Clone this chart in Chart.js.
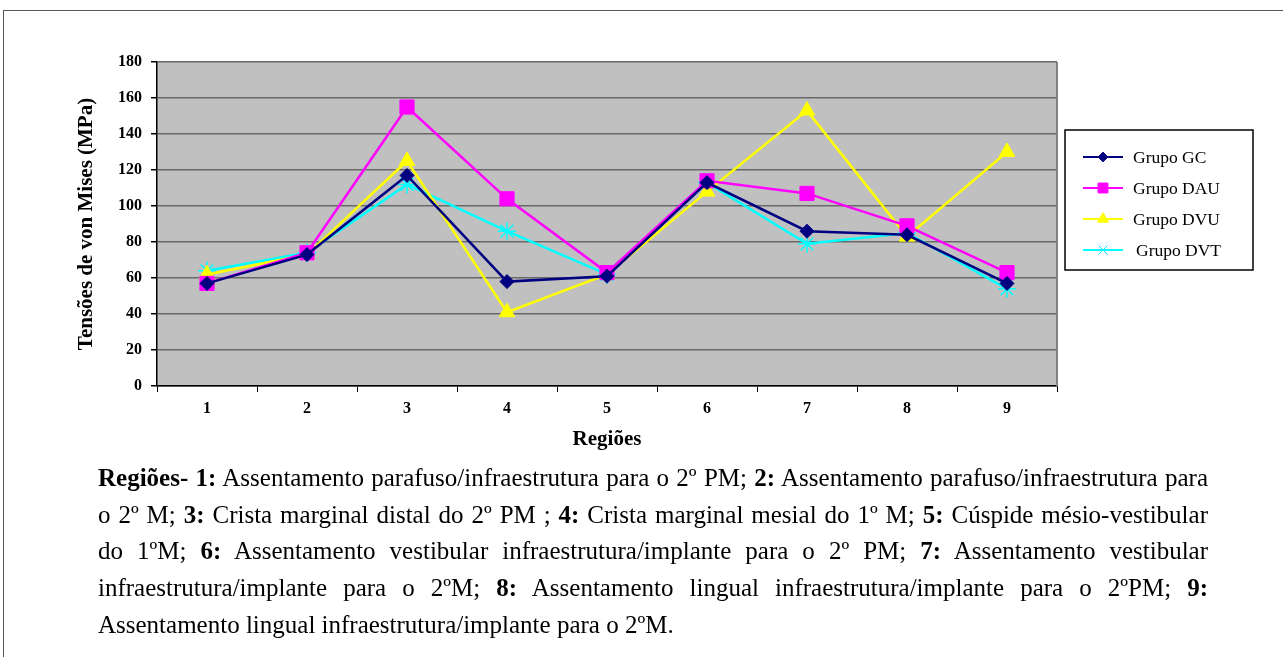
<!DOCTYPE html>
<html>
<head>
<meta charset="utf-8">
<script src="https://cdn.jsdelivr.net/npm/chart.js@4.4.0/dist/chart.umd.min.js"></script>
<style>
  body { margin: 0; background: #fff; width: 1283px; height: 657px; overflow: hidden; position: relative; }
  #frame { position: absolute; left: 3px; top: 10px; width: 1300px; height: 700px; border-top: 1.5px solid #555; border-left: 1px solid #555; }
  #wrap { position: absolute; left: 0; top: 0; width: 1283px; height: 470px; }
  #caption {
    position: absolute; left: 98px; top: 460px; width: 1110px;
    font-family: "Liberation Serif", "Times New Roman", serif; font-size: 25px;
    line-height: 36.7px; text-align: justify; color: #000;
  }
</style>
</head>
<body>
<div id="frame"></div>
<div id="wrap"><canvas id="chart"></canvas></div>
<div id="caption"><b>Regiões- 1:</b> Assentamento parafuso/infraestrutura para o 2º PM; <b>2:</b> Assentamento parafuso/infraestrutura para o 2º M; <b>3:</b> Crista marginal distal do 2º PM ; <b>4:</b> Crista marginal mesial do 1º M; <b>5:</b> Cúspide mésio-vestibular do&nbsp;1ºM; <b>6:</b> Assentamento vestibular infraestrutura/implante para o 2º PM; <b>7:</b> Assentamento vestibular infraestrutura/implante para o 2ºM; <b>8:</b> Assentamento lingual infraestrutura/implante para o 2ºPM; <b>9:</b> Assentamento lingual infraestrutura/implante para o 2ºM.</div>
<script>
const regioes = ['1', '2', '3', '4', '5', '6', '7', '8', '9'];
const grupoGC  = [57, 73, 117, 58, 61, 113, 86, 84, 57];
const grupoDAU = [57, 74, 155, 104, 63, 114, 107, 89, 63];
const grupoDVU = [62, 73, 125, 41, 62, 108, 153, 83, 130];
const grupoDVT = [64, 74, 112, 86, 62, 113, 79, 85, 54];
const yTicks = [0, 20, 40, 60, 80, 100, 120, 140, 160, 180];

const serif = '"Liberation Serif", "Times New Roman", serif';

function series(label, data, color, style, radius) {
  return {
    label: label,
    data: data,
    borderColor: color,
    backgroundColor: color,
    borderWidth: 2.5,
    pointStyle: style,
    pointRadius: radius,
    pointHoverRadius: radius,
    pointBorderWidth: style === 'star' ? 1.5 : 1,
    pointBorderColor: color,
    tension: 0
  };
}

const datasets = [
  series('Grupo GC', grupoGC, '#000080', 'rectRot', 7),
  series('Grupo DAU', grupoDAU, '#ff00ff', 'rect', 10),
  series('Grupo DVU', grupoDVU, '#ffff00', 'triangle', 9),
  series('Grupo DVT', grupoDVT, '#00ffff', 'star', 9)
];

// gray plot background and the right border of the plot
const plotBox = {
  id: 'plotBox',
  beforeDatasetsDraw(chart) {
    const a = chart.chartArea, ctx = chart.ctx;
    ctx.save();
    ctx.strokeStyle = '#808080';
    ctx.lineWidth = 2;
    ctx.beginPath();
    ctx.moveTo(a.right, a.top);
    ctx.lineTo(a.right, a.bottom);
    ctx.stroke();
    ctx.restore();
  },
  beforeDraw(chart) {
    const a = chart.chartArea, ctx = chart.ctx;
    ctx.save();
    ctx.fillStyle = '#c0c0c0';
    ctx.fillRect(a.left, a.top, a.right - a.left, a.bottom - a.top);
    ctx.restore();
  }
};

// legend box on the right, Excel style (line with marker)
const boxLegend = {
  id: 'boxLegend',
  afterDraw(chart) {
    const ctx = chart.ctx;
    const x0 = 1065, y0 = 130, w = 188, h = 140;
    ctx.save();
    ctx.fillStyle = '#fff';
    ctx.fillRect(x0, y0, w, h);
    ctx.strokeStyle = '#000';
    ctx.lineWidth = 1.5;
    ctx.strokeRect(x0, y0, w, h);
    chart.data.datasets.forEach((ds, i) => {
      const y = y0 + 27 + i * 31;
      ctx.strokeStyle = ds.borderColor;
      ctx.lineWidth = 2;
      ctx.beginPath();
      ctx.moveTo(x0 + 18, y);
      ctx.lineTo(x0 + 58, y);
      ctx.stroke();
      ctx.fillStyle = ds.backgroundColor;
      ctx.lineWidth = 1;
      Chart.helpers.drawPoint(ctx, {
        pointStyle: ds.pointStyle === 'star' ? 'crossRot' : ds.pointStyle,
        radius: ds.pointRadius * 0.7,
        rotation: 0,
        borderWidth: 1
      }, x0 + 38, y);
      ctx.fillStyle = '#000';
      ctx.font = '17.5px ' + serif;
      ctx.textBaseline = 'middle';
      ctx.fillText(ds.label, x0 + 68 + (i === 3 ? 3 : 0), y + 1);
    });
    ctx.restore();
  }
};

new Chart(document.getElementById('chart'), {
  type: 'line',
  data: { labels: regioes, datasets: datasets },
  options: {
    responsive: true,
    maintainAspectRatio: false,
    animation: false,
    layout: { padding: { left: 74, top: 62, right: 226, bottom: 10 } },
    plugins: { legend: { display: false }, tooltip: { enabled: false } },
    scales: {
      x: {
        offset: true,
        afterFit(scale) { scale.height = 74; },
        grid: { offset: true, drawOnChartArea: false, color: '#000', tickLength: 6 },
        border: { color: '#000', width: 1.5 },
        ticks: { color: '#000', padding: 7, font: { family: serif, size: 16, weight: 'bold' } },
        title: {
          display: true, text: 'Regiões', color: '#000',
          padding: { top: 0, bottom: 8 },
          font: { family: serif, size: 21, weight: 'bold' }
        }
      },
      y: {
        min: 0, max: 180,
        afterFit(scale) { scale.width = 83; },
        afterBuildTicks(scale) { scale.ticks = yTicks.map(v => ({ value: v })); },
        grid: { color: '#686868', lineWidth: 1.5, tickColor: '#000', tickLength: 6 },
        border: { color: '#000', width: 1.5 },
        ticks: { color: '#000', padding: 9, font: { family: serif, size: 16, weight: 'bold' } },
        title: {
          display: true, text: 'Tensões de von Mises (MPa)', color: '#000',
          padding: 0,
          font: { family: serif, size: 21, weight: 'bold' }
        }
      }
    }
  },
  plugins: [plotBox, boxLegend]
});
</script>
</body>
</html>
